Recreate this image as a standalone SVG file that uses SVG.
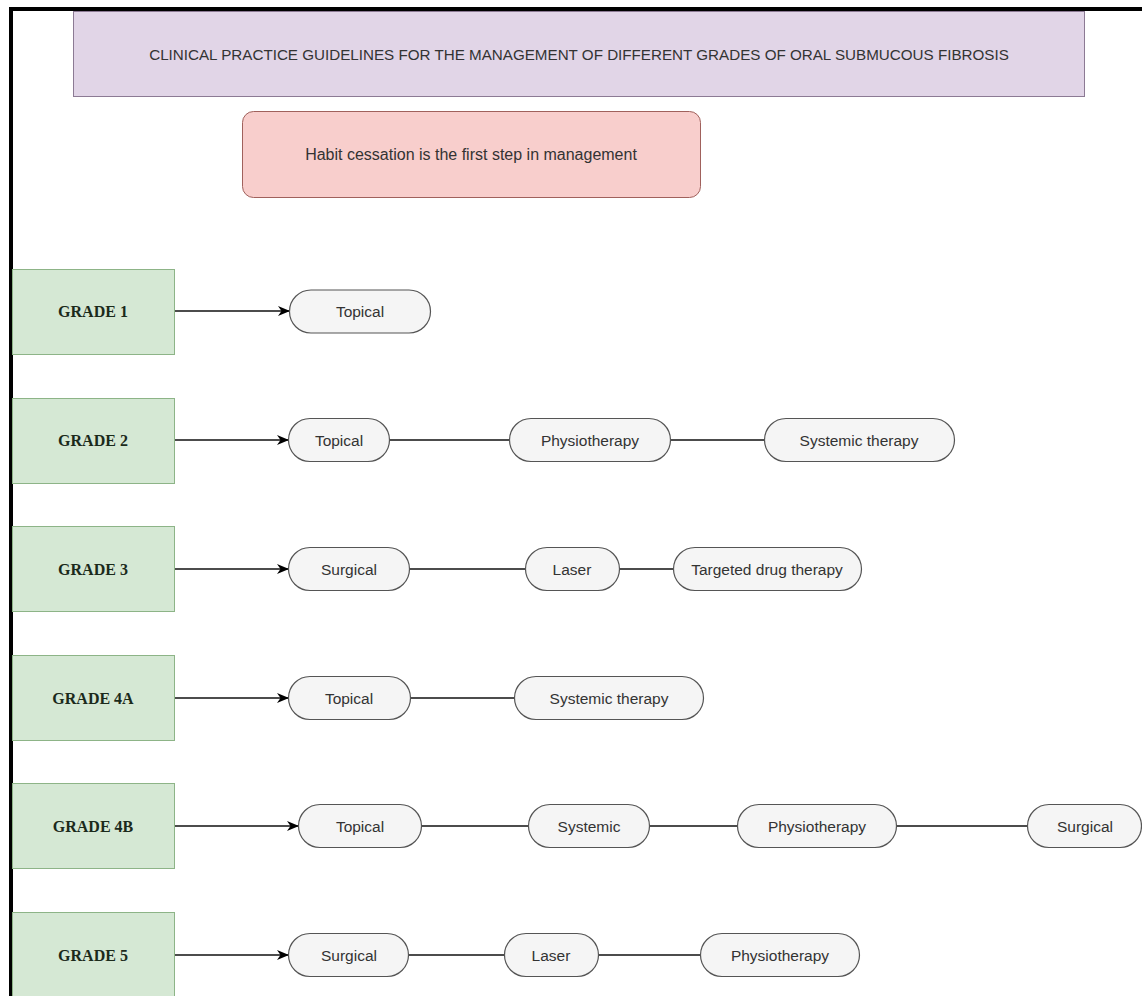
<svg xmlns="http://www.w3.org/2000/svg" width="1142" height="996" viewBox="0 0 1142 996">
<defs>
<marker id="arr" viewBox="0 0 12 12" refX="11" refY="6" markerWidth="12" markerHeight="12" markerUnits="userSpaceOnUse" orient="auto">
<path d="M0,1 L12,6 L0,11 L3.5,6 Z" fill="#000"/>
</marker>
<style>
.grade rect{fill:#d5e8d4;stroke:#8db487;stroke-width:1}
.grade text{font-family:"Liberation Serif",serif;font-weight:bold;font-size:16px;fill:#1b2a1b;text-anchor:middle;dominant-baseline:central}
.pill rect{fill:#f5f5f5;stroke:#555;stroke-width:1.2}
.pill text{font-family:"Liberation Sans",Arial,sans-serif;font-size:15.5px;fill:#333;text-anchor:middle;dominant-baseline:central}
.conn line{stroke:#111;stroke-width:1.4}
.lbl{font-family:"Liberation Sans",Arial,sans-serif;fill:#333;text-anchor:middle;dominant-baseline:central}
</style>
</defs>
<rect width="1142" height="996" fill="#fff"/>
<!-- frame -->
<rect x="9" y="7" width="1133" height="4" fill="#000"/>
<rect x="9" y="7" width="4" height="989" fill="#000"/>

<g id="title">
<rect x="73.5" y="11.5" width="1011" height="85" fill="#e1d5e7" stroke="#8c7a94"/>
<text class="lbl" x="579" y="54" font-size="15.2">CLINICAL PRACTICE GUIDELINES FOR THE MANAGEMENT OF DIFFERENT GRADES OF ORAL SUBMUCOUS FIBROSIS</text>
</g>
<g id="habit">
<rect x="242.5" y="111.5" width="458" height="86" rx="11" fill="#f8cecc" stroke="#a0615c"/>
<text class="lbl" x="471" y="154" font-size="16">Habit cessation is the first step in management</text>
</g>

<g class="conn" id="connectors">
<line x1="175" y1="311" x2="289" y2="311" marker-end="url(#arr)"/>
<line x1="175" y1="440" x2="288" y2="440" marker-end="url(#arr)"/>
<line x1="390" y1="440" x2="509" y2="440"/>
<line x1="671" y1="440" x2="764" y2="440"/>
<line x1="175" y1="569" x2="288" y2="569" marker-end="url(#arr)"/>
<line x1="410" y1="569" x2="525" y2="569"/>
<line x1="619" y1="569" x2="673" y2="569"/>
<line x1="175" y1="698" x2="288" y2="698" marker-end="url(#arr)"/>
<line x1="411" y1="698" x2="514" y2="698"/>
<line x1="175" y1="826" x2="298" y2="826" marker-end="url(#arr)"/>
<line x1="422" y1="826" x2="528" y2="826"/>
<line x1="650" y1="826" x2="737" y2="826"/>
<line x1="897" y1="826" x2="1027" y2="826"/>
<line x1="175" y1="955" x2="288" y2="955" marker-end="url(#arr)"/>
<line x1="409" y1="955" x2="504" y2="955"/>
<line x1="599" y1="955" x2="700" y2="955"/>
</g>

<g id="grade1" class="grade"><rect x="12.5" y="269.5" width="162" height="85"/><text x="93" y="311">GRADE 1</text></g>
<g id="grade2" class="grade"><rect x="12.5" y="398.5" width="162" height="85"/><text x="93" y="440">GRADE 2</text></g>
<g id="grade3" class="grade"><rect x="12.5" y="526.5" width="162" height="85"/><text x="93" y="569">GRADE 3</text></g>
<g id="grade4a" class="grade"><rect x="12.5" y="655.5" width="162" height="85"/><text x="93" y="698">GRADE 4A</text></g>
<g id="grade4b" class="grade"><rect x="12.5" y="783.5" width="162" height="85"/><text x="93" y="826">GRADE 4B</text></g>
<g id="grade5" class="grade"><rect x="12.5" y="912.5" width="162" height="90"/><text x="93" y="955">GRADE 5</text></g>

<g id="g1-topical" class="pill"><rect x="289.5" y="290" width="141" height="43" rx="21.5"/><text x="360" y="311">Topical</text></g>

<g id="g2-topical" class="pill"><rect x="288.5" y="418.5" width="101" height="43" rx="21.5"/><text x="339" y="440">Topical</text></g>
<g id="g2-physio" class="pill"><rect x="509.5" y="418.5" width="161" height="43" rx="21.5"/><text x="590" y="440">Physiotherapy</text></g>
<g id="g2-systemic" class="pill"><rect x="764.5" y="418.5" width="190" height="43" rx="21.5"/><text x="859" y="440">Systemic therapy</text></g>

<g id="g3-surgical" class="pill"><rect x="288.5" y="547.5" width="121" height="43" rx="21.5"/><text x="349" y="569">Surgical</text></g>
<g id="g3-laser" class="pill"><rect x="525.5" y="547.5" width="94" height="43" rx="21.5"/><text x="572" y="569">Laser</text></g>
<g id="g3-targeted" class="pill"><rect x="673.5" y="547.5" width="188" height="43" rx="21.5"/><text x="767" y="569">Targeted drug therapy</text></g>

<g id="g4a-topical" class="pill"><rect x="288.5" y="676.5" width="122" height="43" rx="21.5"/><text x="349" y="698">Topical</text></g>
<g id="g4a-systemic" class="pill"><rect x="514.5" y="676.5" width="189" height="43" rx="21.5"/><text x="609" y="698">Systemic therapy</text></g>

<g id="g4b-topical" class="pill"><rect x="298.5" y="804.5" width="123" height="43" rx="21.5"/><text x="360" y="826">Topical</text></g>
<g id="g4b-systemic" class="pill"><rect x="528.5" y="804.5" width="121" height="43" rx="21.5"/><text x="589" y="826">Systemic</text></g>
<g id="g4b-physio" class="pill"><rect x="737.5" y="804.5" width="159" height="43" rx="21.5"/><text x="817" y="826">Physiotherapy</text></g>
<g id="g4b-surgical" class="pill"><rect x="1027.5" y="804.5" width="114" height="43" rx="21.5"/><text x="1085" y="826">Surgical</text></g>

<g id="g5-surgical" class="pill"><rect x="288.5" y="933.5" width="120" height="43" rx="21.5"/><text x="349" y="955">Surgical</text></g>
<g id="g5-laser" class="pill"><rect x="504.5" y="933.5" width="94" height="43" rx="21.5"/><text x="551" y="955">Laser</text></g>
<g id="g5-physio" class="pill"><rect x="700.5" y="933.5" width="159" height="43" rx="21.5"/><text x="780" y="955">Physiotherapy</text></g>
</svg>
